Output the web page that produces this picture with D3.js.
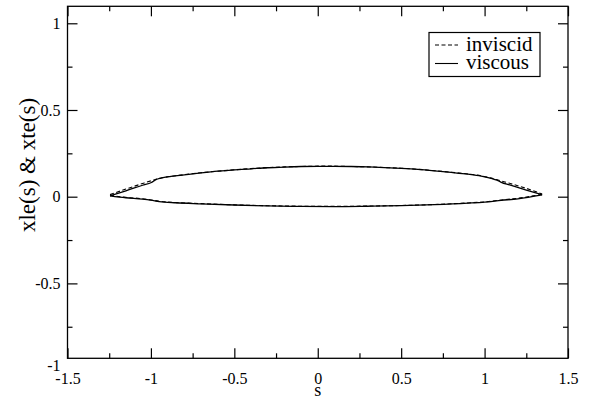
<!DOCTYPE html>
<html>
<head>
<meta charset="utf-8">
<script src="https://cdn.jsdelivr.net/npm/d3@7"></script>
<style>
html,body{margin:0;padding:0;background:#fff;}
svg{display:block;}
svg text{font-family:"Liberation Serif","DejaVu Serif","Times New Roman",Times,serif;}
</style>
</head>
<body>
<svg id="chart" width="602" height="402"></svg>
<script>
// ---- data ----
const xTicksMajor = [-1.5, -1, -0.5, 0, 0.5, 1, 1.5];
const xTicksMinor = [-1.25, -0.75, -0.25, 0.25, 0.75, 1.25];
const yTicksMajor = [-1, -0.5, 0, 0.5, 1];
const yTicksMinor = [-0.75, -0.25, 0.25, 0.75];
const xTickLabels = ["-1.5", "-1", "-0.5", "0", "0.5", "1", "1.5"];
const yTickLabels = ["-1", "-0.5", "0", "0.5", "1"];

// viscous, upper branch
const viscUpperS = [-1.245,-1.15,-1.05,-0.997,-0.985,-0.970,-0.94,-0.88,-0.8,-0.7,-0.6,-0.5,-0.4,-0.3,-0.2,-0.1,0,0.1,0.2,0.3,0.4,0.5,0.6,0.7,0.8,0.9,0.98,1.04,1.075,1.10,1.15,1.25,1.345];
const viscUpperV = [0.005,0.034,0.066,0.082,0.089,0.098,0.107,0.117,0.126,0.137,0.147,0.155,0.161,0.167,0.171,0.174,0.175,0.175,0.174,0.172,0.168,0.163,0.157,0.149,0.140,0.130,0.119,0.106,0.095,0.083,0.068,0.038,0.011];
// viscous, lower branch
const viscLowerS = [-1.245,-1.15,-1.05,-1.0,-0.95,-0.85,-0.7,-0.5,-0.3,-0.1,0.1,0.3,0.5,0.7,0.9,1.0,1.1,1.2,1.345];
const viscLowerV = [0.005,-0.006,-0.014,-0.020,-0.028,-0.035,-0.041,-0.048,-0.053,-0.056,-0.057,-0.055,-0.052,-0.046,-0.037,-0.031,-0.021,-0.012,0.011];
// inviscid, upper branch
const invUpperS = [-1.245,-1.15,-1.05,-0.97,-0.94,-0.88,-0.8,-0.7,-0.6,-0.5,-0.4,-0.3,-0.2,-0.1,0,0.1,0.2,0.3,0.4,0.5,0.6,0.7,0.8,0.9,0.98,1.04,1.08,1.15,1.25,1.345];
const invUpperV = [0.012,0.044,0.076,0.100,0.108,0.117,0.127,0.138,0.147,0.155,0.162,0.168,0.172,0.174,0.176,0.176,0.174,0.172,0.168,0.164,0.158,0.150,0.141,0.131,0.120,0.107,0.096,0.077,0.048,0.016];
// inviscid, lower branch
const invLowerS = [-1.245,-1.15,-1.05,-1.0,-0.95,-0.85,-0.7,-0.5,-0.3,-0.1,0.1,0.3,0.5,0.7,0.9,1.0,1.1,1.2,1.345];
const invLowerV = [0.008,-0.004,-0.012,-0.019,-0.026,-0.034,-0.040,-0.047,-0.052,-0.055,-0.056,-0.054,-0.051,-0.045,-0.036,-0.030,-0.019,-0.009,0.014];

const legendLabels = ["inviscid", "viscous"];

// ---- layout ----
const FONT = '"Liberation Serif","DejaVu Serif","Times New Roman",Times,serif';
const svg = d3.select("#chart");
const L = 67.5, R = 568, T = 6.3, B = 358.3;
const x = d3.scaleLinear().domain([-1.5, 1.5]).range([L, R]);
const y = d3.scaleLinear().domain([-0.932, 1.098]).range([B, T]);
const inY = d => y(d) <= B + 0.5 && y(d) >= T - 0.5;

function zip(s, v){ return s.map((d,i)=>[d, v[i]]); }
const line = d3.line().x(d=>x(d[0])).y(d=>y(d[1])).curve(d3.curveMonotoneX);

function styleAxis(g){
  g.attr("font-family", FONT);
  g.select(".domain").remove();
  g.selectAll(".tick line").attr("stroke","#000").attr("stroke-width",1.2);
}
function hideOutside(g){
  g.selectAll(".tick").filter(d=>!inY(d)).select("line").remove();
}
const fmtX = (d)=> xTickLabels[xTicksMajor.indexOf(d)];
const fmtY = (d)=> yTickLabels[yTicksMajor.indexOf(d)];

svg.append("g").attr("transform",`translate(0,${B})`)
  .call(d3.axisBottom(x).tickValues(xTicksMajor).tickSize(-10).tickPadding(14).tickFormat(fmtX))
  .call(styleAxis)
  .call(g=>g.selectAll(".tick text").attr("font-size",16).attr("fill","#000"));
svg.append("g").attr("transform",`translate(0,${B})`)
  .call(d3.axisBottom(x).tickValues(xTicksMinor).tickSize(-5).tickFormat(""))
  .call(styleAxis);
svg.append("g").attr("transform",`translate(0,${T})`)
  .call(d3.axisTop(x).tickValues(xTicksMajor).tickSize(-10).tickFormat(""))
  .call(styleAxis);
svg.append("g").attr("transform",`translate(0,${T})`)
  .call(d3.axisTop(x).tickValues(xTicksMinor).tickSize(-5).tickFormat(""))
  .call(styleAxis);

svg.append("g").attr("transform",`translate(${L},0)`)
  .call(d3.axisLeft(y).tickValues(yTicksMajor).tickSize(-10).tickPadding(7).tickFormat(fmtY))
  .call(styleAxis).call(hideOutside)
  .call(g=>g.selectAll(".tick text").attr("font-size",16).attr("fill","#000"))
  .call(g=>g.selectAll(".tick").filter(d=>!inY(d)).select("text").attr("dy","0.05em"));
svg.append("g").attr("transform",`translate(${L},0)`)
  .call(d3.axisLeft(y).tickValues(yTicksMinor).tickSize(-5).tickFormat(""))
  .call(styleAxis);
svg.append("g").attr("transform",`translate(${R},0)`)
  .call(d3.axisRight(y).tickValues(yTicksMajor).tickSize(-10).tickFormat(""))
  .call(styleAxis).call(hideOutside);
svg.append("g").attr("transform",`translate(${R},0)`)
  .call(d3.axisRight(y).tickValues(yTicksMinor).tickSize(-5).tickFormat(""))
  .call(styleAxis);

// frame
svg.append("rect").attr("x",L).attr("y",T).attr("width",R-L).attr("height",B-T)
  .attr("fill","none").attr("stroke","#000").attr("stroke-width",1.3);

// curves
const dash = "4,2.5";
[[invUpperS,invUpperV],[invLowerS,invLowerV]].forEach(([s,v])=>{
  svg.append("path").attr("d",line(zip(s,v))).attr("fill","none")
    .attr("stroke","#000").attr("stroke-width",1.1).attr("stroke-dasharray",dash);
});
[[viscUpperS,viscUpperV],[viscLowerS,viscLowerV]].forEach(([s,v])=>{
  svg.append("path").attr("d",line(zip(s,v))).attr("fill","none")
    .attr("stroke","#000").attr("stroke-width",1.3);
});

// axis titles
svg.append("text").attr("x",x(0)).attr("y",396).attr("text-anchor","middle")
  .attr("font-family",FONT).attr("font-size",18).text("s");
svg.append("text").attr("transform",`translate(35,165) rotate(-90)`)
  .attr("text-anchor","middle").attr("font-family",FONT).attr("font-size",23).text("xle(s) & xte(s)");

// legend
const lg = svg.append("g");
lg.append("rect").attr("x",429).attr("y",32.5).attr("width",111).attr("height",44)
  .attr("fill","#fff").attr("stroke","#000").attr("stroke-width",1.2);
const rows = [{y:45, dash:dash}, {y:63.5, dash:null}];
rows.forEach((r,i)=>{
  const l = lg.append("line").attr("x1",435).attr("x2",458).attr("y1",r.y).attr("y2",r.y)
    .attr("stroke","#000").attr("stroke-width",1.1);
  if(r.dash) l.attr("stroke-dasharray",r.dash);
  lg.append("text").attr("x",466).attr("y",r.y+5.5).attr("font-family",FONT).attr("font-size",21).text(legendLabels[i]);
});
</script>
</body>
</html>
